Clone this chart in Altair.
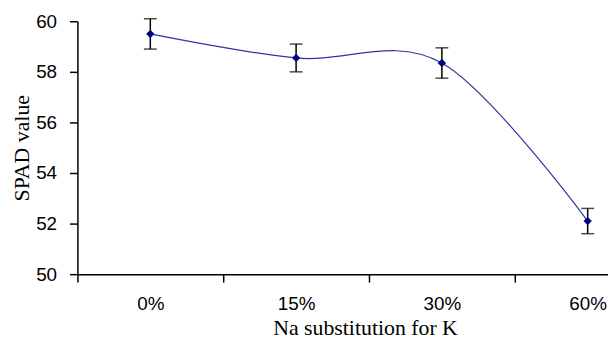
import altair as alt
import pandas as pd

categories = ["0%", "15%", "30%", "60%"]
means = [59.5, 58.55, 58.35, 52.1]
errors = [0.6, 0.55, 0.6, 0.5]

df = pd.DataFrame({"cat": categories, "mean": means, "err": errors})
df["lo"] = df["mean"] - df["err"]
df["hi"] = df["mean"] + df["err"]

x_enc = alt.X(
    "cat:N",
    sort=categories,
    scale=alt.Scale(type="band", paddingInner=0, paddingOuter=0, range=[0, 588]),
    axis=alt.Axis(
        title="Na substitution for K",
        labelAngle=0,
        tickBand="extent",
        tickSize=8,
        tickWidth=1.5,
        tickColor="#000000",
        domainColor="#000000",
        domainWidth=1.5,
        labelFont="Liberation Sans",
        labelFontSize=19,
        labelColor="#000000",
        labelPadding=13,
        titleFont="Liberation Serif",
        titleFontSize=22,
        titleFontWeight="normal",
        titleColor="#000000",
        titlePadding=4,
        titleX=290,
        grid=False,
    ),
)

y_scale = alt.Scale(domain=[50, 60], nice=False, zero=False)
y_axis = alt.Axis(
    title="SPAD value",
    values=[50, 52, 54, 56, 58, 60],
    tickSize=8,
    tickWidth=1.5,
    tickColor="#000000",
    domainColor="#000000",
    domainWidth=1.5,
    labelFont="Liberation Sans",
    labelFontSize=19,
    labelColor="#000000",
    labelPadding=13,
    titleFont="Liberation Serif",
    titleFontSize=22,
    titleFontWeight="normal",
    titleColor="#000000",
    titlePadding=2,
    grid=False,
)

base = alt.Chart(df)

line = base.mark_line(interpolate="cardinal", color="#3232a8", strokeWidth=1.2).encode(
    x=x_enc,
    y=alt.Y("mean:Q", scale=y_scale, axis=y_axis),
)

rules = base.mark_rule(color="#000000", strokeWidth=1.5).encode(
    x=alt.X("cat:N", sort=categories),
    y="lo:Q",
    y2="hi:Q",
)

caps_lo = base.mark_tick(color="#000000", orient="horizontal", size=13, thickness=1.5).encode(
    x=alt.X("cat:N", sort=categories),
    y="lo:Q",
)
caps_hi = base.mark_tick(color="#000000", orient="horizontal", size=13, thickness=1.5).encode(
    x=alt.X("cat:N", sort=categories),
    y="hi:Q",
)

points = base.mark_point(shape="diamond", filled=True, color="#000080", size=70, opacity=1).encode(
    x=alt.X("cat:N", sort=categories),
    y="mean:Q",
)

chart = (
    alt.layer(line, rules, caps_lo, caps_hi, points)
    .properties(
        width=535,
        height=255,
        autosize=alt.AutoSizeParams(type="none"),
        padding={"left": 70, "top": 12, "right": 0, "bottom": 66},
        background="#ffffff",
    )
    .configure_view(stroke=None)
)

chart.save("out.html", embed_options={"renderer": "svg", "actions": False})
